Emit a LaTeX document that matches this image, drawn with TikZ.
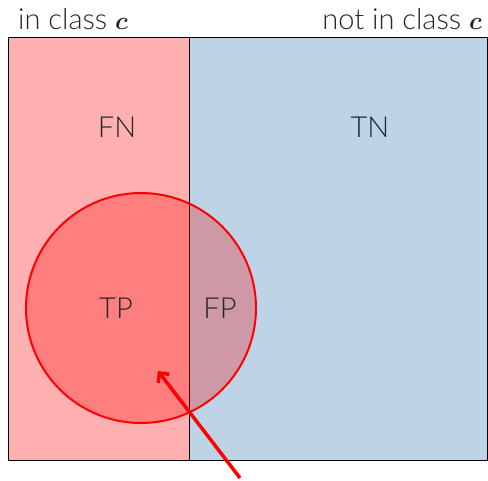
\documentclass[tikz,border=0pt]{standalone}
\usepackage{fontspec}
\setmainfont{Lato Light}
\usetikzlibrary{arrows.meta}
\definecolor{pinkbg}{RGB}{255,176,176}
\definecolor{bluebg}{RGB}{189,212,231}
\begin{document}
\begin{tikzpicture}[x=1pt,y=-1pt,
  lab/.style={font=\fontsize{29}{33}\selectfont, text=black!85, inner sep=0pt},
  region/.style={draw=black, line width=1pt}]
\useasboundingbox (0,0) rectangle (488,480);
\fill[pinkbg] (8,37) rectangle (189,460);
\fill[bluebg] (189,37) rectangle (487,460);
\draw[line width=1pt] (8,37) rectangle (487,460);
\draw[line width=1pt] (189,37) -- (189,460);
\node[circle, minimum size=230pt, inner sep=0pt, fill=red, fill opacity=0.28, draw=red, draw opacity=1, line width=2pt] (circ) at (141,308) {};
\node[lab, anchor=base west] (inc) at (18,29) {in class {\boldmath$c$}};
\node[lab, anchor=base east] (notc) at (482,29) {not in class {\boldmath$c$}};
\node[lab] (fn) at (117,127) {FN};
\node[lab] (tn) at (370,127) {TN};
\node[lab] (tp) at (116,308) {TP};
\node[lab] (fp) at (220,308) {FP};
\coordinate (tail) at (240,478);
\coordinate (tip) at (158,371);
\draw[red, line width=3.5pt, -{Straight Barb[length=7pt,width=14pt]}] (tail) -- (tip);
\end{tikzpicture}
\end{document}
